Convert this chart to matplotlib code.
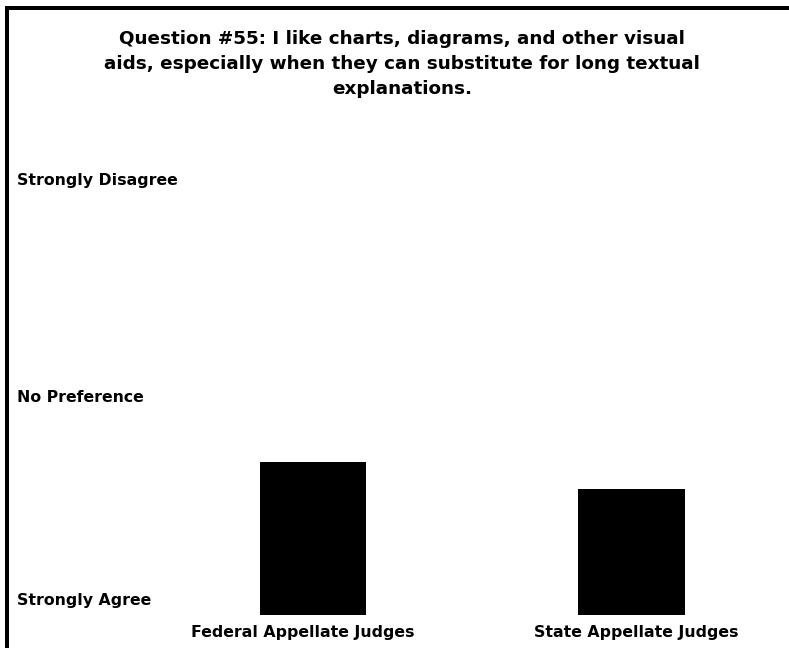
import matplotlib
matplotlib.use("Agg")
import matplotlib.pyplot as plt
from matplotlib.lines import Line2D
import matplotlib.transforms as mtransforms

# Survey data: mean response on a 1 (Strongly Agree) to 5 (Strongly Disagree) scale
groups = ["Federal Appellate Judges", "State Appellate Judges"]
mean_scores = [2.41, 2.16]
scale_values = [1, 3, 5]
scale_labels = ["Strongly Agree", "No Preference", "Strongly Disagree"]
title = ("Question #55: I like charts, diagrams, and other visual\n"
         "aids, especially when they can substitute for long textual\n"
         "explanations.")

W, H, DPI = 789, 648, 100
fig = plt.figure(figsize=(W / DPI, H / DPI), dpi=DPI)
fig.patch.set_facecolor("white")

# Axes placed in pixel terms
ax_left, ax_right = 160, 780
ax_bottom_px = H - 615
ax_top_px = H - 180
ax = fig.add_axes([ax_left / W, ax_bottom_px / H,
                   (ax_right - ax_left) / W, (ax_top_px - ax_bottom_px) / H])

x = list(range(len(groups)))
base = 1
ax.bar(x, [v - base for v in mean_scores], bottom=base, width=0.333,
       color="black", edgecolor="none")

ax.set_ylim(1, 5)
ax.set_xlim(-(313 - ax_left) / 318.5, (ax_right - 313) / 318.5)
ax.axis("off")

font = "DejaVu Sans"
label_size = 11.3

# Category labels under bars (small horizontal nudges in pixels)
label_nudge = [-10, 5]
for xi, g, dx in zip(x, groups, label_nudge):
    ax.annotate(g, xy=(xi, 1), xycoords="data", xytext=(dx, -18),
                textcoords="offset pixels", ha="center", va="center",
                fontsize=label_size, fontweight="bold", family=font)

# Scale labels on the left, left-aligned
trans = mtransforms.blended_transform_factory(fig.transFigure, ax.transData)
for v, lab in zip(scale_values, scale_labels):
    off = 14 if v == 1 else 0
    ax.annotate(lab, xy=(17 / W, v), xycoords=trans, xytext=(0, off),
                textcoords="offset pixels", ha="left", va="center",
                fontsize=label_size, fontweight="bold", family=font)

fig.text(402 / W, 1 - 64 / H, title, ha="center", va="center",
         fontsize=13.2, fontweight="bold", family=font, linespacing=1.48)

# Frame along the top and left edges
lw = 4 * 72 / DPI
fig.add_artist(Line2D([7 / W, 7 / W], [0, 1 - 8 / H], transform=fig.transFigure,
                      color="black", lw=lw, solid_capstyle="projecting"))
fig.add_artist(Line2D([7 / W, 1.01], [1 - 8 / H, 1 - 8 / H], transform=fig.transFigure,
                      color="black", lw=lw, solid_capstyle="projecting"))

fig.savefig("out.png", dpi=DPI, facecolor="white")
